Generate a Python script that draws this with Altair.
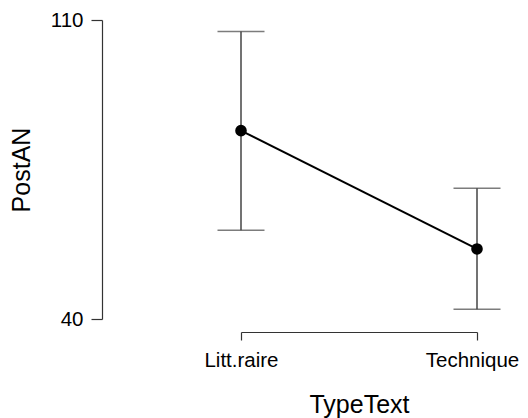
import altair as alt
import pandas as pd

categories = ["Litt.raire", "Technique"]
means = [84.1, 56.4]
upper = [107.3, 70.6]
lower = [60.8, 42.3]
y_ticks = [40, 110]

df = pd.DataFrame({"TypeText": categories, "PostAN": means, "hi": upper, "lo": lower})

FONT = "Liberation Sans"

x_enc = alt.X(
    "TypeText:N",
    sort=categories,
    scale=alt.Scale(type="point", padding=0),
    axis=alt.Axis(
        title="TypeText", labelAngle=0, offset=13, tickSize=8, tickColor="#333333",
        domainColor="#333333", domainWidth=1.2, tickWidth=1.2,
        labelFontSize=20.5, labelFont=FONT, labelColor="#000000", labelPadding=10,
        labelOffset=alt.condition("datum.value == 'Technique'", alt.value(-5), alt.value(0)),
        titleFontSize=25, titleFont=FONT, titleFontWeight="normal", titleColor="#000000",
        titlePadding=22, grid=False,
    ),
)
y_scale = alt.Scale(domain=[40, 110], nice=False, zero=False)
y_axis = alt.Axis(
    title="PostAN", values=y_ticks, offset=139, tickSize=11, tickColor="#333333",
    domainColor="#333333", domainWidth=1.2, tickWidth=1.2,
    labelFontSize=20.5, labelFont=FONT, labelColor="#000000", labelPadding=8,
    titleFontSize=25, titleFont=FONT, titleFontWeight="normal", titleColor="#000000",
    titlePadding=16, grid=False,
)

base = alt.Chart(df)

err = base.mark_rule(color="#444444", strokeWidth=1.5).encode(
    x=x_enc, y=alt.Y("lo:Q", scale=y_scale, axis=y_axis), y2="hi:Q"
)
cap_hi = base.mark_tick(color="#444444", thickness=1.5, size=47).encode(
    x=alt.X("TypeText:N", sort=categories), y=alt.Y("hi:Q")
)
cap_lo = base.mark_tick(color="#444444", thickness=1.5, size=47).encode(
    x=alt.X("TypeText:N", sort=categories), y=alt.Y("lo:Q")
)
line = base.mark_line(color="#000000", strokeWidth=2).encode(
    x=alt.X("TypeText:N", sort=categories), y=alt.Y("PostAN:Q")
)
pts = base.mark_point(filled=True, color="#000000", size=135, opacity=1).encode(
    x=alt.X("TypeText:N", sort=categories), y=alt.Y("PostAN:Q")
)

chart = (
    alt.layer(err, cap_hi, cap_lo, line, pts)
    .properties(
        width=236, height=299,
        autosize=alt.AutoSizeParams(type="none"),
        padding={"left": 233, "top": 12, "right": 43, "bottom": 99},
        background="white",
    )
    .configure_view(strokeWidth=0)
)

chart.save("out.html", embed_options={"renderer": "svg", "actions": False})
